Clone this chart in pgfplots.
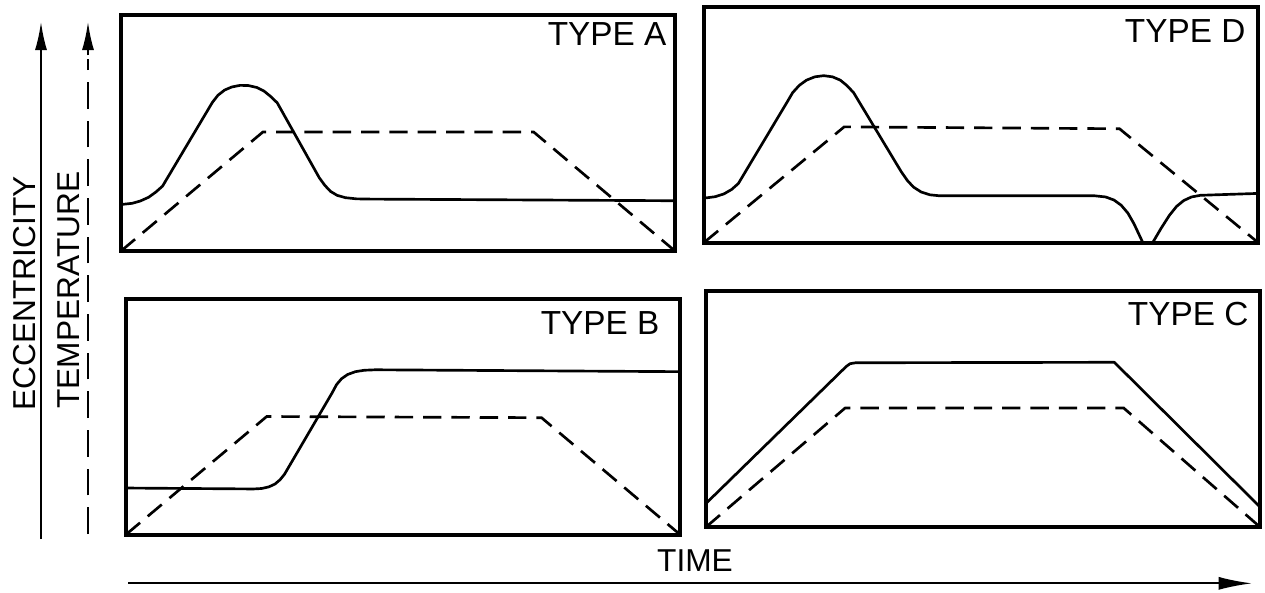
\documentclass[border=0pt]{standalone}
\usepackage{fontspec}
\setmainfont{Liberation Sans}
\usepackage{pgfplots}
\pgfplotsset{compat=1.18}
\usetikzlibrary{arrows.meta}

% one box per type, all the same size, no ticks
\pgfplotsset{
  panel/.style={
    scale only axis, width=166.2pt, height=70.8pt, anchor=south west,
    xmin=0, xmax=100, ymin=0, ymax=100,
    xtick=\empty, ytick=\empty,
    axis line style={line width=1.2pt},
  },
  ecc/.style={black, line width=0.8pt, mark=none, line join=round},
  temp/.style={black, line width=0.8pt, mark=none, dash pattern=on 5.5pt off 3pt},
}
\tikzset{tag/.style={anchor=north east, inner sep=0pt, font=\fontsize{10}{12}\selectfont}}

\begin{document}
\begin{tikzpicture}
\useasboundingbox (0,0) rectangle (379.5pt,177.6pt);

% TYPE A
\begin{axis}[panel, at={(36.3pt,102.3pt)}]
\addplot[ecc] coordinates {
  (0,19.7) (2,20.2) (3.5,21.2) (5,22.8) (6.3,25) (7.5,27.5)
  (16.5,63) (17.5,66) (18.7,68.2) (20,69.5) (21.5,70.2) (23,70.1) (24.5,69.3)
  (25.8,67.8) (27,65.5) (28.2,62.8)
  (35.8,31) (36.8,27.8) (37.8,25.3) (39,23.6) (40.5,22.6) (42.5,22.1) (45,22)
  (100,21.3)
};
\addplot[temp] coordinates {(0,0) (25.6,50.4) (74.5,50.4) (100,0)};
\node[tag, xshift=-2.4pt, yshift=-2.1pt] at (rel axis cs:1,1) {TYPE A};
\end{axis}

% TYPE D
\begin{axis}[panel, at={(211.2pt,104.85pt)}]
\addplot[ecc] coordinates {
  (0,18.8) (2,19.4) (3.6,20.6) (5,22.5) (6.2,25)
  (15,59.5) (16,63.5) (17.2,66.6) (18.5,68.8) (20,70.2) (21.6,70.7) (23.2,70.2)
  (24.6,68.8) (25.8,66.5) (27,63.5)
  (35.6,30) (36.7,26.3) (37.8,23.5) (39.2,21.4) (40.8,20.2) (42.5,19.8)
  (70.5,19.8) (72.5,19.3) (74,18) (75.3,15.8) (76.5,12.5) (77.6,8) (78.7,2.5) (79.2,0)
  (81,0) (82.5,6) (84,11.5) (85.3,15.3) (86.6,17.8) (88,19.3) (89.6,20) (100,20.8)
};
\addplot[temp] coordinates {(0,0) (25.3,49) (75,48.2) (100,0)};
\node[tag, xshift=-3.6pt, yshift=-3.6pt] at (rel axis cs:1,1) {TYPE D};
\end{axis}

% TYPE B
\begin{axis}[panel, at={(37.8pt,17.25pt)}]
\addplot[ecc] coordinates {
  (0,19.7) (23,19.3) (24.5,19.5) (25.8,20.2) (26.9,21.4) (27.8,23.2) (28.6,25.5)
  (37.2,60) (38,63.5) (38.9,66) (40,67.8) (41.4,69) (43,69.6) (45,69.8) (100,69)
};
\addplot[temp] coordinates {(0,0) (25.4,50) (75,49.5) (100,0)};
\node[tag, xshift=-6pt, yshift=-3.6pt] at (rel axis cs:1,1) {TYPE B};
\end{axis}

% TYPE C
\begin{axis}[panel, at={(211.8pt,19.5pt)}]
\addplot[ecc] coordinates {
  (0,10) (25.3,68) (26,69.2) (27,69.6) (73.7,69.8) (100,8.5)
};
\addplot[temp] coordinates {(0,0) (25.1,50.4) (75.4,50.4) (100,0)};
\node[tag, xshift=-3.3pt, yshift=-3.3pt] at (rel axis cs:1,1) {TYPE C};
\end{axis}

% shared axis arrows and names
\draw[line width=0.6pt, -{Latex[length=8.4pt,width=3.6pt]}] (12.3pt,15.9pt) -- (12.3pt,171pt);
\draw[line width=0.6pt, dash pattern=on 8pt off 3.6pt] (26.4pt,17.4pt) -- (26.4pt,160pt);
\draw[line width=0.6pt, -{Latex[length=8.4pt,width=3.6pt]}] (26.4pt,161pt) -- (26.4pt,171pt);
\node[rotate=90, inner sep=0pt, font=\fontsize{9.5}{11}\selectfont] at (7.5pt,89.55pt) {ECCENTRICITY};
\node[rotate=90, inner sep=0pt, font=\fontsize{9.5}{11}\selectfont] at (20.7pt,90.6pt) {TEMPERATURE};

\draw[line width=0.6pt, -{Latex[length=10pt,width=3.9pt]}] (38.4pt,2.6pt) -- (375.6pt,2.6pt);
\node[inner sep=0pt, font=\fontsize{9.5}{11}\selectfont] at (208.5pt,9.3pt) {TIME};
\end{tikzpicture}
\end{document}
